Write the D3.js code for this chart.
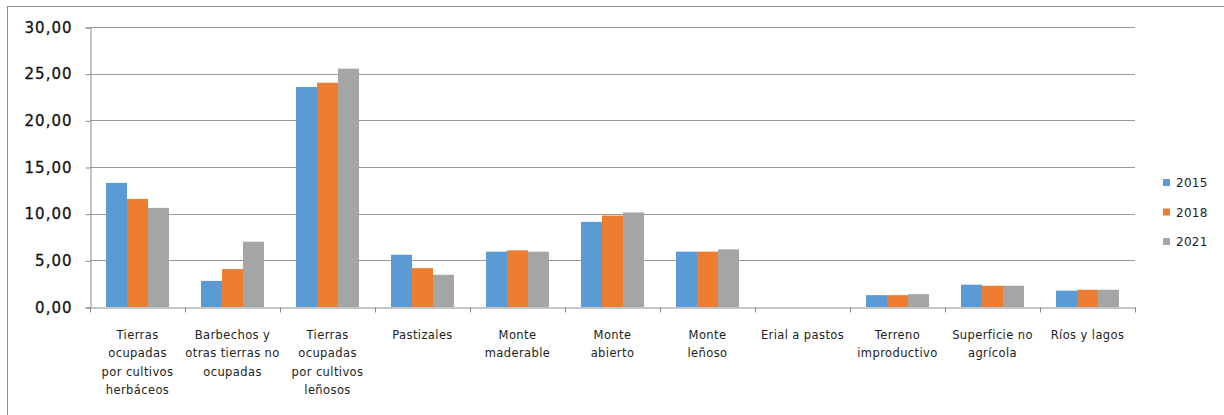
<!DOCTYPE html>
<html lang="es">
<head>
    <meta charset="UTF-8">
    <title>Superficie por usos</title>
    <script src="https://cdn.jsdelivr.net/npm/d3@7/dist/d3.min.js"></script>
    <style>
        body { margin: 0; background: #fff; }
    </style>
</head>
<body>
    <svg width="1224" height="415" id="mainsvg"></svg>
    <script>
        // datos
        const categories = [
            'Tierras\nocupadas\npor cultivos\nherbáceos',
            'Barbechos y\notras tierras no\nocupadas',
            'Tierras\nocupadas\npor cultivos\nleñosos',
            'Pastizales',
            'Monte\nmaderable',
            'Monte\nabierto',
            'Monte\nleñoso',
            'Erial a pastos',
            'Terreno\nimproductivo',
            'Superficie no\nagrícola',
            'Ríos y lagos'
        ]
        const years = ['2015', '2018', '2021']
        const v2015 = [13.30, 2.80, 23.57, 5.60, 5.93, 9.12, 5.93, 0, 1.27, 2.39, 1.75]
        const v2018 = [11.58, 4.06, 24.03, 4.16, 6.07, 9.80, 5.93, 0, 1.27, 2.28, 1.85]
        const v2021 = [10.62, 7.00, 25.54, 3.45, 5.93, 10.13, 6.17, 0, 1.38, 2.28, 1.85]
        const yTicks = [0, 5, 10, 15, 20, 25, 30]
        const colors = ['#5B9BD5', '#ED7D31', '#A5A5A5']

        const series = [v2015, v2018, v2021]

        const svg = d3.select('#mainsvg')
        const margin = {top: 27, left: 90, right: 89, bottom: 108}
        const width = +svg.attr('width')
        const height = +svg.attr('height')

        // marco
        svg.append('rect')
            .attr('x', 7.5).attr('y', 6.5)
            .attr('width', 1300).attr('height', 500)
            .attr('fill', 'none').attr('stroke', '#8c8c8c')

        const x0 = d3.scaleBand()
            .domain(categories)
            .range([margin.left, width - margin.right])
        const x1 = d3.scaleBand()
            .domain(years)
            .range([16, 79])
        const y = d3.scaleLinear()
            .domain([0, 30])
            .range([height - margin.bottom, margin.top])

        const fmt = d => d3.format('.2f')(d).replace('.', ',')

        // rejilla
        svg.append('g').selectAll('line')
            .data(yTicks.filter(d => d > 0))
            .join('line')
            .attr('x1', margin.left).attr('x2', width - margin.right)
            .attr('y1', d => Math.round(y(d)) + 0.5)
            .attr('y2', d => Math.round(y(d)) + 0.5)
            .attr('stroke', '#9a9a9a')

        // barras
        years.forEach((yr, i) => {
            svg.append('g').selectAll('rect')
                .data(series[i].map((v, j) => ({cat: categories[j], v})))
                .join('rect')
                .attr('x', d => x0(d.cat) + x1(yr))
                .attr('width', x1.bandwidth())
                .attr('y', d => y(d.v))
                .attr('height', d => y(0) - y(d.v))
                .attr('fill', colors[i])
        })

        // eje y
        const yAxis = d3.axisLeft(y)
            .tickValues(yTicks)
            .tickSize(5)
            .tickPadding(13)
            .tickFormat(fmt)
        const yg = svg.append('g')
            .attr('transform', `translate(${margin.left + 0.5},0.5)`)
            .call(yAxis)
        yg.select('.domain').attr('stroke', '#8c8c8c')
        yg.selectAll('.tick line').attr('stroke', '#8c8c8c')
        yg.selectAll('.tick text')
            .attr('font-family', 'DejaVu Sans')
            .attr('font-size', 15)
            .attr('letter-spacing', 1)
            .attr('fill', '#111')
            .attr('stroke', '#111')
            .attr('stroke-width', 0.3)

        // eje x
        const xAxis = d3.axisBottom(x0).tickSize(0).tickFormat('')
        const xg = svg.append('g')
            .attr('transform', `translate(0.5,${Math.round(y(0)) + 0.5})`)
            .call(xAxis)
        xg.select('.domain').attr('stroke', '#8c8c8c')
        xg.selectAll('.sep')
            .data(d3.range(categories.length + 1))
            .join('line')
            .attr('class', 'sep')
            .attr('x1', i => Math.round(margin.left + i * x0.step()))
            .attr('x2', i => Math.round(margin.left + i * x0.step()))
            .attr('y1', 0).attr('y2', 5)
            .attr('stroke', '#8c8c8c')

        const labels = svg.append('g')
            .selectAll('text')
            .data(categories)
            .join('text')
            .attr('font-family', 'DejaVu Sans')
            .attr('font-size', 11.5)
            .attr('letter-spacing', 0.4)
            .attr('fill', '#222')
            .attr('text-anchor', 'middle')
            .attr('transform', d => `translate(${x0(d) + x0.bandwidth() / 2},${y(0) + 32})`)
        labels.selectAll('tspan')
            .data(d => d.split('\n'))
            .join('tspan')
            .attr('x', 0)
            .attr('dy', (d, i) => i === 0 ? 0 : 18.3)
            .text(d => d)

        // leyenda
        const legend = svg.append('g')
            .attr('transform', 'translate(1163,183)')
        years.forEach((yr, i) => {
            const lg = legend.append('g').attr('transform', `translate(0,${i * 29.5})`)
            lg.append('rect')
                .attr('x', 0).attr('y', -4)
                .attr('width', 7).attr('height', 7)
                .attr('fill', colors[i])
            lg.append('text')
                .attr('x', 13).attr('y', 4)
                .attr('font-family', 'DejaVu Sans')
                .attr('font-size', 12)
                .attr('letter-spacing', 0.3)
                .attr('fill', '#222')
                .text(yr)
        })
    </script>
</body>
</html>
